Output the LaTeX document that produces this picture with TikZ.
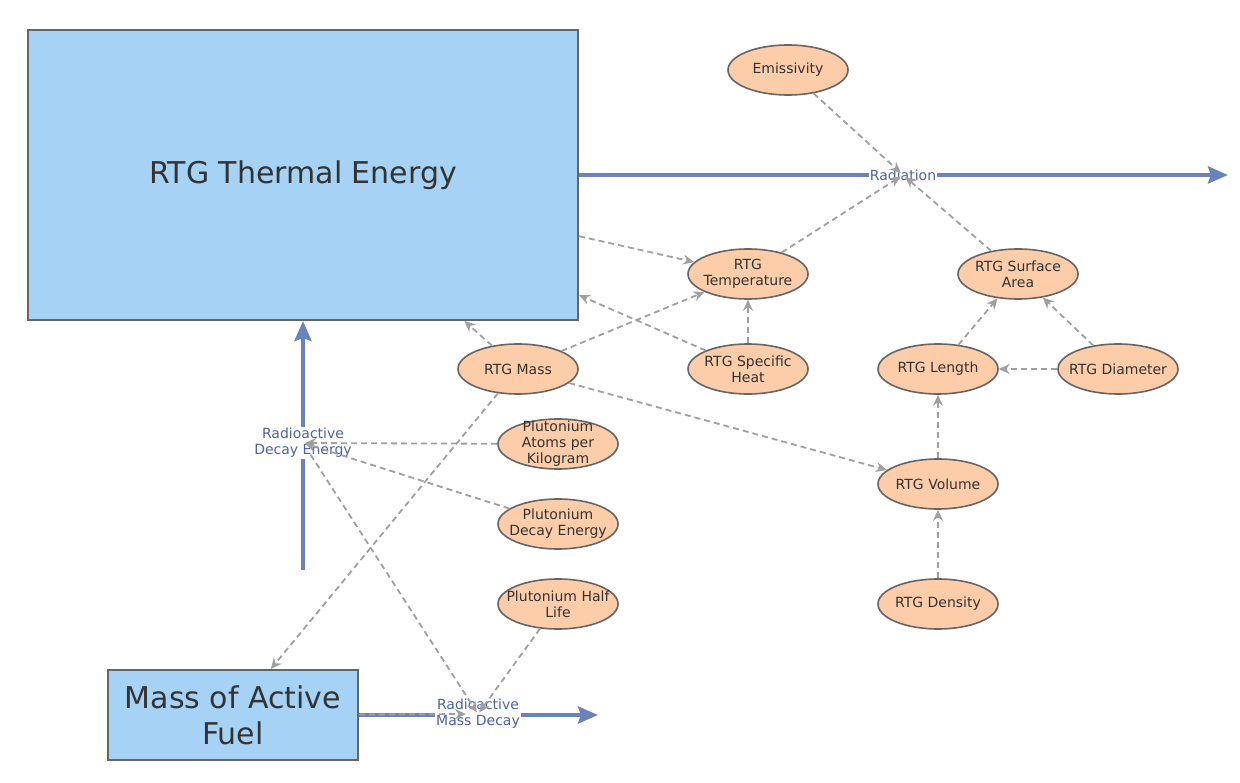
\documentclass[tikz,border=0pt]{standalone}
\usepackage{fontspec}
\setmainfont{DejaVu Sans}
\usepackage{tikz}
\usetikzlibrary{arrows.meta,positioning,shapes.geometric}
\definecolor{stockfill}{HTML}{A6D3F5}
\definecolor{auxfill}{HTML}{FDCDA9}
\definecolor{edgegray}{HTML}{666666}
\definecolor{flowblue}{HTML}{6A83BE}
\definecolor{flowtext}{HTML}{4C64A8}
\definecolor{linkgray}{HTML}{A0A0A0}
\definecolor{ink}{HTML}{333333}
\tikzset{
  stock/.style   = {draw=edgegray, line width=2pt, fill=stockfill, text=ink, align=center,
                    font=\fontsize{30}{36}\selectfont},
  aux/.style     = {ellipse, draw=edgegray, line width=1.6pt, fill=auxfill, text=ink,
                    align=center, minimum width=120pt, minimum height=50pt,
                    inner xsep=-16pt, inner ysep=-10pt, font=\fontsize{14}{16}\selectfont},
  flow/.style    = {flowblue, line width=4pt, -{Stealth[length=20pt,width=17pt,inset=3pt]}},
  flowlab/.style = {fill=white, text=flowtext, align=center, inner sep=1pt,
                    font=\fontsize{14}{16}\selectfont},
  link/.style    = {linkgray, line width=1.8pt, dash pattern=on 6pt off 4pt,
                    -{Stealth[length=11pt,width=10pt]}},
}
\begin{document}
\begin{tikzpicture}[x=1pt,y=-1pt]
  \useasboundingbox (0,0) rectangle (1240,783);
  % stocks
  \node[stock, minimum width=550pt, minimum height=290pt] (thermal) at (303,175) {RTG Thermal Energy};
  \node[stock, minimum width=250pt, minimum height=90pt] (fuel) at (233,715) {Mass of Active\\Fuel};
  % valves and free ends of the flows
  \coordinate (radv) at (903,175);
  \coordinate (radout) at (1228,175);
  \coordinate (decv) at (303,443);
  \coordinate (decin) at (303,570);
  \coordinate (massv) at (478,714);
  \coordinate (massout) at (598,715);
  \draw[flow] (thermal.east) -- (radout);
  \draw[flow] (decin) -- (thermal.south);
  \draw[flow] (fuel.east) -- (massout);
  \node[flowlab] at (radv) {Radiation};
  \node[flowlab] at (decv) {Radioactive\\Decay Energy};
  \node[flowlab] at (massv) {Radioactive\\Mass Decay};
  % variables
  \node[aux] (emis)  at (788,70)  {Emissivity};
  \node[aux] (temp)  at (748,274) {RTG\\Temperature};
  \node[aux] (area)  at (1018,274) {RTG Surface\\Area};
  \node[aux] (rmass) at (518,369) {RTG Mass};
  \node[aux] (heat)  at (748,369) {RTG Specific\\Heat};
  \node[aux] (len)   at (938,369) {RTG Length};
  \node[aux] (diam)  at (1118,369) {RTG Diameter};
  \node[aux] (atoms) at (558,444) {Plutonium\\Atoms per\\Kilogram};
  \node[aux] (vol)   at (938,484) {RTG Volume};
  \node[aux] (pde)   at (558,524) {Plutonium\\Decay Energy};
  \node[aux] (half)  at (558,604) {Plutonium Half\\Life};
  \node[aux] (dens)  at (938,604) {RTG Density};
  % links
  \draw[link, shorten >=3pt] (emis) -- (radv);
  \draw[link, shorten >=3pt] (temp) -- (radv);
  \draw[link, shorten >=3pt] (area) -- (radv);
  \draw[link] (thermal) -- (temp);
  \draw[link] (rmass) -- (temp);
  \draw[link] (heat) -- (temp);
  \draw[link] (heat) -- (thermal);
  \draw[link] (rmass) -- (thermal);
  \draw[link] (rmass) -- (fuel);
  \draw[link] (rmass) -- (vol);
  \draw[link] (len) -- (area);
  \draw[link] (diam) -- (area);
  \draw[link] (diam) -- (len);
  \draw[link] (vol) -- (len);
  \draw[link] (dens) -- (vol);
  \draw[link, shorten >=2pt] (atoms) -- (decv);
  \draw[link, shorten >=2pt] (pde) -- (decv);
  \draw[link, shorten <=14pt, shorten >=2pt] (decv) -- (massv);
  \draw[link, shorten >=2pt] (half) -- (massv);
  \draw[link, shorten >=12pt] (fuel) -- (massv);
\end{tikzpicture}
\end{document}
